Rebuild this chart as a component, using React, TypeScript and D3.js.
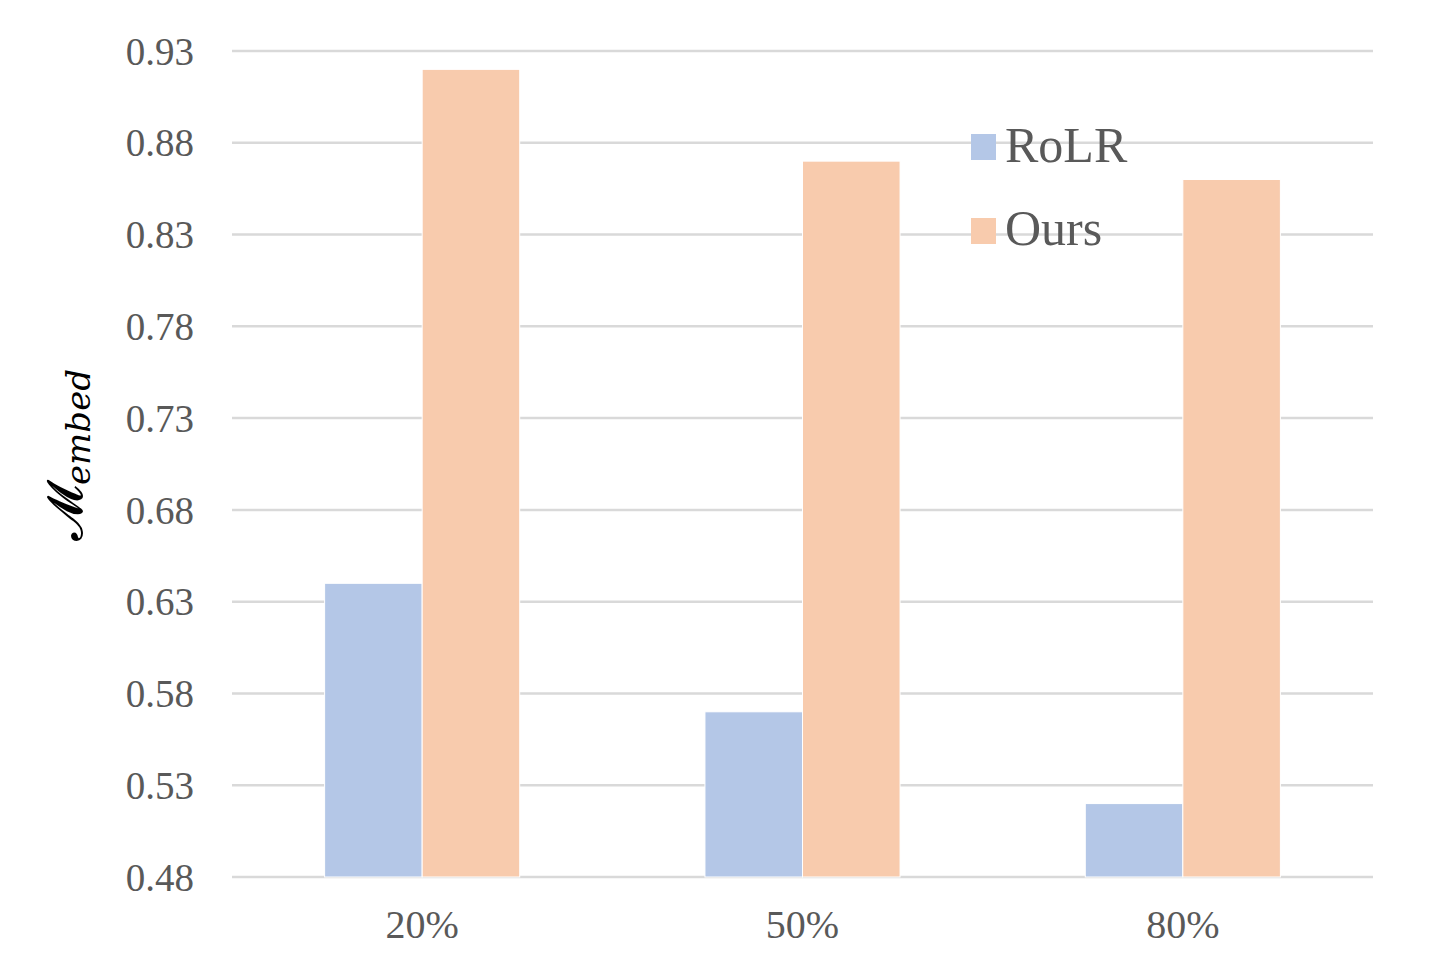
import React from "react";
import * as d3 from "d3";

const categories = ["20%", "50%", "80%"];
const seriesNames = ["RoLR", "Ours"];
const rolrValues = [0.64, 0.57, 0.52];
const oursValues = [0.92, 0.87, 0.86];
const yTicks = [0.48, 0.53, 0.58, 0.63, 0.68, 0.73, 0.78, 0.83, 0.88, 0.93];
const colors = ["#B4C7E7", "#F8CBAD"];

const W = 1432;
const H = 980;
const left = 232;
const right = 1373;
const top = 51;
const bottom = 877;

export default function App() {
  const x = d3.scaleBand<string>().domain(categories).range([left, right]).paddingInner(0).paddingOuter(0);
  const inner = d3.scaleBand<string>().domain(seriesNames).range([0, x.bandwidth() * 0.513]);
  const offset = (x.bandwidth() - x.bandwidth() * 0.513) / 2;
  const y = d3.scaleLinear().domain([0.48, 0.93]).range([bottom, top]);
  const series = [rolrValues, oursValues];
  const fontFam = "'Liberation Serif', 'Times New Roman', serif";
  const textColor = "#595959";

  return (
    <svg width={W} height={H} style={{ position: "absolute", left: 0, top: 0, background: "#fff" }}>
      <rect x={0} y={0} width={W} height={H} fill="#fff" />
      {yTicks.map((t) => (
        <g key={t}>
          <line x1={left} x2={right} y1={y(t)} y2={y(t)} stroke="#D9D9D9" strokeWidth={2.5} />
          <text x={194} y={y(t)} dy="0.35em" textAnchor="end" fontFamily={fontFam} fontSize={39} fill={textColor}>
            {t.toFixed(2)}
          </text>
        </g>
      ))}
      {categories.map((c, i) => (
        <g key={c}>
          {series.map((vals, s) => (
            <rect
              key={s}
              x={(x(c) as number) + offset + (inner(seriesNames[s]) as number)}
              y={y(vals[i])}
              width={inner.bandwidth()}
              height={y(0.48) - y(vals[i])}
              fill={colors[s]}
              stroke="#fff"
              strokeWidth={1}
            />
          ))}
          <text x={(x(c) as number) + x.bandwidth() / 2} y={938} textAnchor="middle" fontFamily={fontFam} fontSize={40} fill={textColor}>
            {c}
          </text>
        </g>
      ))}
      {seriesNames.map((n, s) => (
        <g key={n}>
          <rect x={971} y={134 + s * 84} width={25} height={26} fill={colors[s]} />
          <text x={1005} y={162 + s * 83} fontFamily={fontFam} fontSize={50} fill={textColor}>
            {n}
          </text>
        </g>
      ))}
      <g transform="translate(82,455) rotate(-90)">
        <text textAnchor="middle" fontFamily="'DejaVu Serif', 'Liberation Serif', serif" fill="#000">
          <tspan fontSize={50}>𝓜</tspan>
          <tspan fontSize={34} fontStyle="italic" dy={8}>embed</tspan>
        </text>
      </g>
    </svg>
  );
}
